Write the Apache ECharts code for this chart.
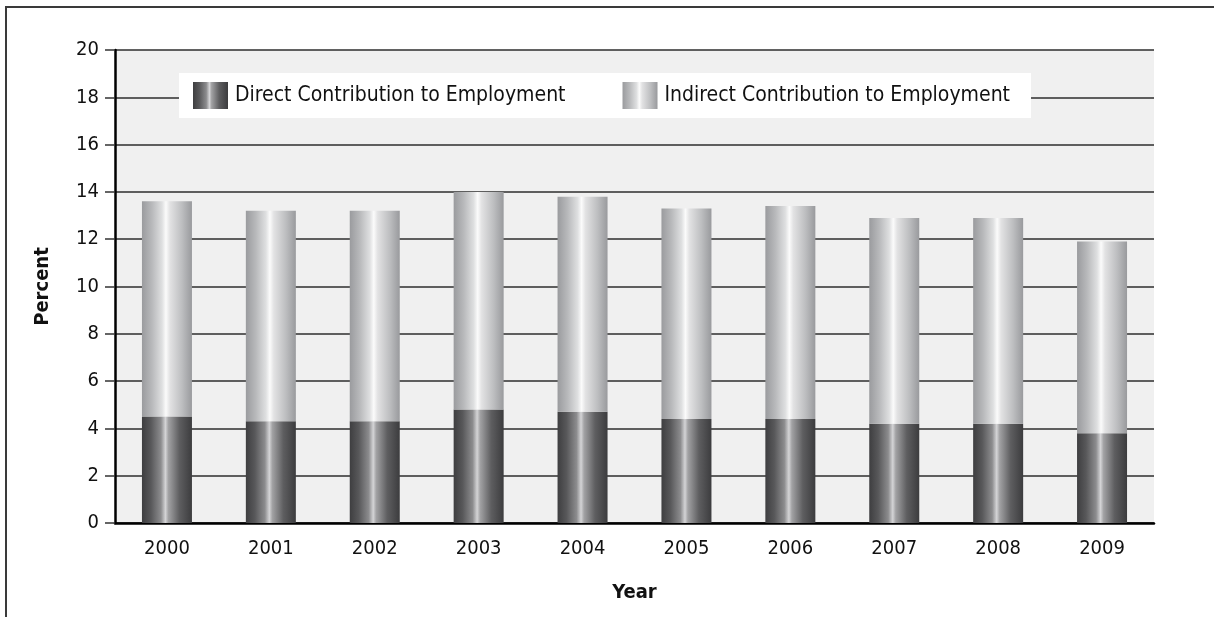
<!DOCTYPE html>
<html>
<head>
<meta charset="utf-8">
<script src="https://cdn.jsdelivr.net/npm/echarts@6/dist/echarts.min.js"></script>
<style>
  html, body { margin: 0; padding: 0; background: #ffffff; }
  #chart { width: 1214px; height: 617px; }
</style>
</head>
<body>
<div id="chart"></div>
<script>
// Share of total employment, by year (percent)
const years = ['2000', '2001', '2002', '2003', '2004', '2005', '2006', '2007', '2008', '2009'];
const directContribution = [4.5, 4.3, 4.3, 4.8, 4.7, 4.4, 4.4, 4.2, 4.2, 3.8];
const indirectContribution = [9.1, 8.9, 8.9, 9.2, 9.1, 8.9, 9.0, 8.7, 8.7, 8.1];
const seriesNames = ['Direct Contribution to Employment', 'Indirect Contribution to Employment'];

const FONT = '"DejaVu Sans Condensed", "DejaVu Sans", sans-serif';

// Cylinder-like shading across each bar
const directFill = new echarts.graphic.LinearGradient(0, 0, 1, 0, [
  { offset: 0.00, color: '#3e3e40' },
  { offset: 0.18, color: '#58585a' },
  { offset: 0.38, color: '#8c8c8e' },
  { offset: 0.47, color: '#d4d4d6' },
  { offset: 0.53, color: '#a2a2a4' },
  { offset: 0.75, color: '#5e5e60' },
  { offset: 1.00, color: '#3c3c3e' }
]);
const indirectFill = new echarts.graphic.LinearGradient(0, 0, 1, 0, [
  { offset: 0.00, color: '#9a9b9e' },
  { offset: 0.20, color: '#b8b9bb' },
  { offset: 0.40, color: '#dedfe0' },
  { offset: 0.48, color: '#fbfbfb' },
  { offset: 0.56, color: '#e2e2e3' },
  { offset: 0.80, color: '#bdbec0' },
  { offset: 1.00, color: '#999a9d' }
]);

const chart = echarts.init(document.getElementById('chart'), null, { renderer: 'canvas' });

chart.setOption({
  animation: false,
  backgroundColor: '#ffffff',
  textStyle: { fontFamily: FONT },
  graphic: [{
    type: 'rect',
    silent: true,
    shape: { x: 6, y: 7, width: 1400, height: 800 },
    style: { fill: 'none', stroke: '#3a3a3a', lineWidth: 2 }
  }],
  grid: {
    left: 115, right: 60, top: 50, bottom: 94,
    show: true, backgroundColor: '#f0f0f0', borderWidth: 0
  },
  legend: {
    data: seriesNames,
    left: 179, top: 73,
    padding: [9, 21, 9, 14],
    backgroundColor: '#ffffff',
    icon: 'rect',
    itemWidth: 35, itemHeight: 27,
    itemGap: 57,
    selectedMode: false,
    textStyle: { fontFamily: FONT, fontSize: 21, color: '#111111', padding: [0, 0, 0, 2] }
  },
  xAxis: {
    type: 'category',
    data: years,
    name: 'Year',
    nameLocation: 'middle',
    nameGap: 60,
    nameTextStyle: { fontFamily: FONT, fontSize: 20, fontWeight: 'bold', color: '#111111' },
    axisLine: { show: true, lineStyle: { color: '#000000', width: 2.5 } },
    axisTick: { show: false },
    axisLabel: { fontFamily: FONT, fontSize: 20, color: '#111111', margin: 16 },
    splitLine: { show: false }
  },
  yAxis: {
    type: 'value',
    min: 0, max: 20, interval: 2,
    name: 'Percent',
    nameLocation: 'middle',
    nameRotate: 90,
    nameGap: 62,
    nameTextStyle: { fontFamily: FONT, fontSize: 20, fontWeight: 'bold', color: '#111111' },
    axisLine: { show: true, lineStyle: { color: '#000000', width: 2.5 } },
    axisTick: { show: true, length: 10, lineStyle: { color: '#333333', width: 1.5 } },
    axisLabel: { fontFamily: FONT, fontSize: 20, color: '#111111', margin: 16 },
    splitLine: { show: true, lineStyle: { color: '#2e2e2e', width: 1.6 } }
  },
  series: [
    {
      name: seriesNames[0],
      type: 'bar',
      stack: 'employment',
      barWidth: 50,
      data: directContribution,
      itemStyle: { color: directFill }
    },
    {
      name: seriesNames[1],
      type: 'bar',
      stack: 'employment',
      barWidth: 50,
      data: indirectContribution,
      itemStyle: { color: indirectFill }
    }
  ]
});
</script>
</body>
</html>
